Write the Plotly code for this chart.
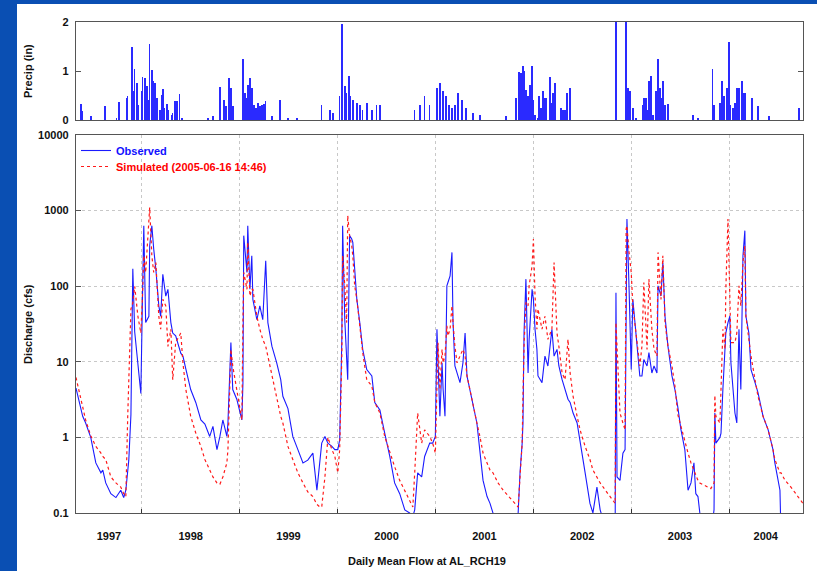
import plotly.graph_objects as go

# ---------------- data ----------------
flow_dates = [
    "1997-04-30", "1997-05-25", "1997-06-05", "1997-06-24", "1997-07-13", "1997-08-01", "1997-08-08",
    "1997-08-19", "1997-09-07", "1997-09-26", "1997-10-14", "1997-10-25", "1997-11-02", "1997-11-09",
    "1997-11-13", "1997-11-21", "1997-11-28", "1997-12-05", "1997-12-17", "1997-12-28",
    "1998-01-04", "1998-01-08", "1998-01-15", "1998-01-27", "1998-01-30", "1998-02-07", "1998-02-14",
    "1998-02-22", "1998-03-05", "1998-03-12", "1998-03-20", "1998-03-31", "1998-04-08", "1998-04-19",
    "1998-04-26", "1998-05-07", "1998-05-26", "1998-06-03", "1998-06-14", "1998-07-02", "1998-07-21",
    "1998-08-09", "1998-08-24", "1998-09-11", "1998-09-23", "1998-10-08", "1998-10-19", "1998-10-30",
    "1998-11-14", "1998-11-18", "1998-11-29", "1998-12-06", "1998-12-21",
    "1999-01-09", "1999-01-13", "1999-01-16", "1999-01-28", "1999-01-31", "1999-02-08", "1999-02-15",
    "1999-02-19", "1999-03-06", "1999-03-17", "1999-03-28", "1999-04-08", "1999-04-16", "1999-05-01",
    "1999-05-19", "1999-06-03", "1999-06-11", "1999-06-30", "1999-07-18", "1999-08-06", "1999-08-25",
    "1999-09-12", "1999-10-01", "1999-10-16", "1999-10-27", "1999-11-03", "1999-11-15", "1999-11-26",
    "1999-12-11", "1999-12-22",
    "2000-01-02", "2000-01-09", "2000-01-17", "2000-01-20", "2000-01-28", "2000-02-04", "2000-02-08",
    "2000-02-15", "2000-02-23", "2000-02-27", "2000-03-05", "2000-03-13", "2000-03-24", "2000-04-04",
    "2000-04-19", "2000-05-08", "2000-05-19", "2000-06-07", "2000-06-25", "2000-07-14", "2000-08-01",
    "2000-08-20", "2000-09-08", "2000-09-26", "2000-10-08", "2000-10-15", "2000-10-26", "2000-11-10",
    "2000-11-21", "2000-12-10", "2000-12-21", "2000-12-31",
    "2001-01-06", "2001-01-10", "2001-01-17", "2001-01-25", "2001-01-29", "2001-02-05", "2001-02-12",
    "2001-02-16", "2001-02-24", "2001-03-03", "2001-03-07", "2001-03-14", "2001-03-22", "2001-04-02",
    "2001-04-13", "2001-04-21", "2001-04-28", "2001-05-09", "2001-05-21", "2001-06-04", "2001-06-16",
    "2001-06-27", "2001-07-12", "2001-07-23", "2001-08-03", "2001-08-22", "2001-09-10", "2001-09-28",
    "2001-10-24", "2001-11-05", "2001-11-12", "2001-11-20", "2001-11-23", "2001-11-27", "2001-12-04",
    "2001-12-12", "2001-12-16", "2001-12-27",
    "2002-01-01", "2002-01-07", "2002-01-14", "2002-01-18", "2002-02-02", "2002-02-13", "2002-02-24",
    "2002-03-11", "2002-03-19", "2002-03-30", "2002-04-06", "2002-04-18", "2002-04-29", "2002-05-10",
    "2002-05-18", "2002-05-29", "2002-06-13", "2002-06-24", "2002-07-13", "2002-07-31", "2002-08-11",
    "2002-08-26", "2002-09-07", "2002-10-06", "2002-11-02", "2002-11-05", "2002-11-09", "2002-11-20",
    "2002-12-01", "2002-12-09", "2002-12-13", "2002-12-16", "2002-12-24",
    "2003-01-01", "2003-01-07", "2003-01-22", "2003-02-02", "2003-02-10", "2003-02-17", "2003-03-01",
    "2003-03-08", "2003-03-19", "2003-03-27", "2003-04-07", "2003-04-11", "2003-04-22", "2003-04-29",
    "2003-05-07", "2003-05-18", "2003-06-02", "2003-06-13", "2003-06-24", "2003-07-05", "2003-07-20",
    "2003-08-01", "2003-08-12", "2003-08-23", "2003-08-30", "2003-09-07", "2003-09-14", "2003-10-03",
    "2003-10-25", "2003-11-06", "2003-11-09", "2003-11-13", "2003-11-28", "2003-12-02", "2003-12-09",
    "2003-12-17", "2003-12-20", "2003-12-28",
    "2004-01-04", "2004-01-08", "2004-01-23", "2004-01-30", "2004-02-07", "2004-02-14", "2004-02-22",
    "2004-02-29", "2004-03-04", "2004-03-15", "2004-03-23", "2004-04-07", "2004-04-18", "2004-05-07",
    "2004-05-26", "2004-06-13", "2004-06-20", "2004-07-09", "2004-07-13", "2004-07-28", "2004-08-19",
    "2004-09-14", "2004-10-03",
]

observed_cfs = [
    4.5, 1.9, 1.55, 1.0, 0.46, 0.34, 0.37,
    0.25, 0.18, 0.16, 0.2, 0.16, 0.2, 0.37,
    0.5, 2.0, 170, 25, 10, 3.8,
    110, 630, 33, 40, 343, 632, 310,
    168, 55, 40, 144, 74, 91, 33,
    24, 22, 13, 11.9, 8, 4.3, 2.9,
    1.7, 1.5, 1.03, 1.4, 0.69, 1.03, 1.7,
    1.03, 1.55, 18, 4.3, 3.2,
    1.7, 5.3, 466, 152, 632, 91, 253,
    67, 36, 55, 36, 217, 33, 16.1,
    9.7, 5.8, 3.5, 2.4, 1.03, 0.69, 0.46,
    0.5, 0.62, 0.2, 0.56, 0.84, 1.03, 0.84,
    0.76, 0.69,
    0.69, 0.93, 19.8, 632, 36, 8.8, 5.8,
    466, 421, 380, 168, 67, 33, 14.6,
    7.9, 6.5, 2.9, 2.3, 1.14, 0.56, 0.25,
    0.18, 0.11, 0.1, 0.09, 0.11, 0.34, 0.30,
    0.56, 0.84, 0.84, 1.03,
    27, 11.9, 1.9, 9.7, 4.3, 1.9, 101,
    112, 137, 280, 33, 8.8, 7.1, 5.3,
    9.7, 24, 6.5, 4.3, 2.6, 1.55, 0.62,
    0.27, 0.165, 0.134, 0.1, 0.05, 0.05, 0.05,
    0.05, 0.1, 0.34, 0.84, 1.55, 24, 124,
    7.1, 19.8, 91,
    67, 27, 14.6, 6.5, 5.3, 11.9, 8.8,
    27, 11.9, 14.6, 8.8, 5.8, 4.3, 3.2,
    2.9, 2.1, 1.55, 0.84, 0.34, 0.134, 0.1,
    0.22, 0.11, 0.05, 0.05, 82, 0.3, 0.27,
    0.62, 0.69, 18, 774, 91,
    7.9, 67, 19.8, 6.5, 6.5, 10.7, 8.8,
    13.2, 7.1, 8.8, 7.1, 101, 74, 206,
    40, 16.1, 6.5, 4.3, 2.5, 1.3, 0.69,
    0.2, 0.25, 0.46, 0.18, 0.165, 0.1, 0.05,
    0.05, 0.11, 2.1, 0.84, 1.0, 1.14, 4.3,
    11.9, 24, 33,
    40, 9.7, 2.1, 1.55, 27, 4.3, 253,
    543, 40, 24, 7.9, 5.3, 3.9, 1.9,
    1.26, 0.69, 0.46, 0.2, 0.05, 0.05, 0.05,
    0.05, 0.05,
]

simulated_cfs = [
    6.2, 2.6, 1.7, 1.05, 0.76, 0.62, 0.56,
    0.51, 0.30, 0.25, 0.22, 0.18, 0.165, 1.9,
    6.5, 50, 60, 100, 40, 24,
    91, 253, 152, 632, 1100, 253, 152,
    206, 40, 27, 67, 55, 16, 27,
    5.8, 18, 24, 9.7, 4.3, 1.9, 1.14,
    0.76, 0.51, 0.37, 0.30, 0.25, 0.24, 0.30,
    0.46, 0.69, 14.6, 8.8, 4.3,
    1.7, 33, 152, 91, 380, 74, 91,
    91, 40, 27, 19.8, 16.1, 11.9, 6.5,
    3.5, 1.9, 1.55, 0.76, 0.51, 0.34, 0.25,
    0.19, 0.165, 0.13, 0.12, 0.12, 0.30, 1.0,
    0.69, 0.56,
    0.34, 0.69, 11.9, 253, 101, 33, 859,
    466, 343, 253, 101, 67, 30, 13.2,
    5.8, 4.8, 2.9, 2.1, 1.03, 0.62, 0.41,
    0.27, 0.20, 0.15, 0.12, 0.34, 2.1, 0.84,
    1.26, 1.03, 0.84, 0.62,
    7.1, 17.9, 4.3, 14.6, 9.7, 11.9, 30,
    22, 27, 55, 33, 16.1, 9.7, 11.9,
    14.6, 11.9, 6.5, 4.3, 2.6, 1.55, 1.0,
    0.62, 0.46, 0.37, 0.34, 0.25, 0.2, 0.17,
    0.134, 0.12, 0.30, 0.84, 3.5, 16.1, 61,
    55, 101, 186,
    421, 74, 27, 50, 27, 40, 19.8,
    27, 206, 24, 16, 7.1, 5.8, 19.8,
    7.1, 3.5, 1.9, 1.26, 0.76, 0.51, 0.37,
    0.30, 0.25, 0.18, 0.134, 33, 14.6, 2.1,
    1.55, 1.26, 571, 632, 280,
    152, 55, 19.8, 8.8, 16.1, 112, 14.6,
    124, 27, 14.6, 11.9, 280, 67, 253,
    33, 16.1, 8.8, 4.8, 2.0, 1.4, 0.93,
    0.62, 0.46, 0.37, 0.33, 0.27, 0.25, 0.23,
    0.21, 0.25, 3.6, 1.9, 1.55, 4.3, 27,
    14.6, 91, 774,
    61, 17.9, 17.9, 24, 101, 55, 206,
    343, 40, 19.8, 11.9, 5.8, 3.5, 1.9,
    1.26, 0.69, 0.51, 0.34, 0.34, 0.27, 0.22,
    0.165, 0.134,
]

precip_dates = [
    "1997-05-18", "1997-05-25", "1997-06-24", "1997-08-16", "1997-09-29", "1997-10-07", "1997-11-06",
    "1997-11-09", "1997-11-24", "1997-11-28", "1997-12-05", "1997-12-13", "1997-12-17",
    "1998-01-01", "1998-01-04", "1998-01-12", "1998-01-19", "1998-01-23", "1998-01-30", "1998-02-07",
    "1998-02-11", "1998-02-18", "1998-02-26", "1998-03-01", "1998-03-09", "1998-03-16", "1998-03-20",
    "1998-03-27", "1998-04-04", "1998-04-08", "1998-04-23", "1998-04-26", "1998-05-04", "1998-05-11",
    "1998-05-22", "1998-05-30", "1998-09-04", "1998-09-23", "1998-10-19", "1998-11-03", "1998-11-10",
    "1998-11-21", "1998-11-29", "1998-12-06",
    "1999-01-13", "1999-01-20", "1999-01-28", "1999-01-31", "1999-02-08", "1999-02-15", "1999-02-23",
    "1999-03-03", "1999-03-10", "1999-03-17", "1999-03-25", "1999-04-01", "1999-04-08", "1999-05-01",
    "1999-05-31", "1999-06-30", "1999-08-02", "1999-11-03", "1999-12-03", "1999-12-15",
    "2000-01-09", "2000-01-17", "2000-01-20", "2000-01-28", "2000-02-04", "2000-02-12", "2000-02-19",
    "2000-02-27", "2000-03-13", "2000-03-24", "2000-04-04", "2000-04-19", "2000-05-08", "2000-05-26",
    "2000-06-07", "2000-10-15", "2000-11-03", "2000-11-21", "2000-12-10",
    "2001-01-06", "2001-01-17", "2001-01-29", "2001-02-09", "2001-02-20", "2001-03-03", "2001-03-14",
    "2001-03-26", "2001-04-09", "2001-04-24", "2001-05-21", "2001-06-16", "2001-09-21", "2001-10-28",
    "2001-11-08", "2001-11-16", "2001-11-23", "2001-11-27", "2001-12-04", "2001-12-12", "2001-12-19",
    "2001-12-27",
    "2002-01-01", "2002-01-07", "2002-01-18", "2002-01-22", "2002-01-29", "2002-02-06", "2002-02-09",
    "2002-02-17", "2002-03-04", "2002-03-11", "2002-03-15", "2002-03-23", "2002-04-14", "2002-04-21",
    "2002-04-29", "2002-05-06", "2002-05-18", "2002-11-05", "2002-12-13", "2002-12-20", "2002-12-28",
    "2003-01-07", "2003-01-18", "2003-02-14", "2003-02-17", "2003-02-25", "2003-03-04", "2003-03-08",
    "2003-03-15", "2003-03-23", "2003-04-03", "2003-04-11", "2003-04-18", "2003-04-25", "2003-04-29",
    "2003-05-07", "2003-05-18", "2003-08-19", "2003-09-07", "2003-10-31", "2003-11-06", "2003-11-28",
    "2003-12-06", "2003-12-13", "2003-12-24",
    "2004-01-01", "2004-01-04", "2004-01-15", "2004-01-23", "2004-01-30", "2004-02-07", "2004-02-18",
    "2004-02-22", "2004-02-29", "2004-03-26", "2004-04-18", "2004-05-29", "2004-09-18",
]

precip_in = [
    0.32, 0.18, 0.08, 0.28, 0.05, 0.36, 0.45,
    0.48, 1.5, 0.6, 1.05, 0.75, 0.3,
    0.6, 0.88, 0.85, 0.7, 0.4, 1.55, 1.02,
    0.8, 0.75, 0.45, 0.3, 0.2, 0.52, 0.63,
    0.25, 0.32, 0.2, 0.1, 0.15, 0.38, 0.38,
    0.53, 0.03, 0.05, 0.08, 0.68, 0.4, 0.28,
    0.85, 0.65, 0.28,
    1.25, 0.55, 0.45, 0.72, 0.85, 0.65, 0.3,
    0.25, 0.35, 0.28, 0.3, 0.32, 0.38, 0.08,
    0.4, 0.05, 0.05, 0.3, 0.2, 0.15,
    0.5, 1.95, 0.9, 0.7, 0.55, 0.9, 0.5,
    0.4, 0.35, 0.3, 0.2, 0.35, 0.2, 0.3,
    0.3, 0.2, 0.3, 0.5, 0.3,
    0.65, 0.75, 0.6, 0.5, 0.3, 0.25, 0.3,
    0.55, 0.4, 0.25, 0.15, 0.1, 0.08, 0.45,
    0.97, 0.95, 1.1, 1.0, 0.62, 0.5, 0.72,
    1.1,
    0.4, 0.1, 0.05, 0.48, 0.25, 0.6, 0.45,
    0.45, 0.87, 0.35, 0.55, 0.75, 0.25, 0.2,
    0.2, 0.55, 0.65, 2.3, 2.3, 0.65, 0.6,
    0.25, 0.05, 0.3, 0.45, 0.45, 0.2, 0.8,
    0.9, 0.1, 0.6, 1.25, 0.65, 0.45, 0.8,
    0.3, 0.32, 0.1, 0.03, 1.05, 0.3, 0.35,
    0.8, 0.5, 0.65,
    1.6, 0.3, 0.25, 0.35, 0.65, 0.65, 0.8,
    0.55, 0.55, 0.45, 0.28, 0.08, 0.25,
]

year_labels = ["1997", "1998", "1999", "2000", "2001", "2002", "2003", "2004"]
year_label_dates = ["1997-08-31", "1998-07-02", "1999-07-02", "2000-07-02", "2001-07-02",
                    "2002-07-02", "2003-07-02", "2004-05-17"]
x_range = ["1997-04-30", "2004-10-03"]

# ---------------- figure ----------------
W, H = 817, 571
FONT = "Liberation Sans, Arial, Helvetica, sans-serif"
AXC = "#555555"
GRIDC = "#c8c8c8"

fig = go.Figure()

fig.add_trace(go.Bar(
    x=precip_dates, y=precip_in, xaxis="x", yaxis="y",
    marker=dict(color="#2a2aff", line=dict(width=0)),
    width=2.0 * 86400000, showlegend=False, hoverinfo="skip",
))

fig.add_trace(go.Scatter(
    x=flow_dates, y=observed_cfs, xaxis="x2", yaxis="y2", mode="lines",
    line=dict(color="#1a1aff", width=1.1),
    name="<span style='color:#1010ff'><b>Observed</b></span>", legend="legend",
))
fig.add_trace(go.Scatter(
    x=flow_dates, y=simulated_cfs, xaxis="x2", yaxis="y2", mode="lines",
    line=dict(color="#ff1a1a", width=1.2, dash="dot"),
    name="<span style='color:#ff0000'><b>Simulated (2005-06-16 14:46)</b></span>", legend="legend2",
))

xdom = [76 / W, 803 / W]
tickfont = dict(family=FONT, size=11, color="#111111", weight="bold")
leg_common = dict(x=76 / W, xanchor="left", yanchor="top", bgcolor="rgba(0,0,0,0)",
                  borderwidth=0, font=dict(family=FONT, size=11))

fig.update_layout(
    width=W, height=H,
    margin=dict(l=0, r=0, t=0, b=0, autoexpand=False),
    paper_bgcolor="#0a4fb3",
    plot_bgcolor="white",
    bargap=0,
    showlegend=True,
    legend=dict(y=1 - 136 / H, **leg_common),
    legend2=dict(y=1 - 152 / H, **leg_common),
    xaxis=dict(domain=xdom, anchor="y", type="date", range=x_range, automargin=False,
               showticklabels=False, ticks="", showgrid=False, zeroline=False,
               showline=True, mirror=True, linecolor=AXC, linewidth=1.3),
    yaxis=dict(domain=[1 - 120 / H, 1 - 22 / H], anchor="x", range=[0, 2], automargin=False,
               tickvals=[0, 1, 2], ticktext=["0", "1", "2"], ticks="inside", ticklen=5,
               tickcolor=AXC, tickfont=tickfont, showgrid=False, zeroline=False,
               showline=True, mirror="ticks", linecolor=AXC, linewidth=1.3,
               ticklabelstandoff=4),
    xaxis2=dict(domain=xdom, anchor="y2", type="date", range=x_range, automargin=False,
                tickvals=year_label_dates, ticktext=year_labels, ticks="",
                tickfont=tickfont, showgrid=False, zeroline=False,
                showline=True, mirror=True, linecolor=AXC, linewidth=1.3,
                ticklabelstandoff=13,
                minor=dict(dtick="M12", tick0="1998-01-01", ticks="inside", ticklen=4,
                           tickcolor="#333333", showgrid=True, gridcolor=GRIDC,
                           griddash="dot", gridwidth=1)),
    yaxis2=dict(domain=[1 - 513 / H, 1 - 135 / H], anchor="x2", type="log", range=[-1, 4],
                automargin=False,
                tickvals=[0.1, 1, 10, 100, 1000, 10000],
                ticktext=["0.1", "1", "10", "100", "1000", "10000"],
                ticks="inside", ticklen=5, tickcolor=AXC, tickfont=tickfont,
                showgrid=True, gridcolor=GRIDC, griddash="dot", gridwidth=1,
                zeroline=False, showline=True, mirror=True, linecolor=AXC, linewidth=1.3,
                ticklabelstandoff=4),
)

# white slide panel
fig.add_shape(type="rect", xref="paper", yref="paper", x0=17 / W, x1=1, y0=0, y1=1 - 4 / H,
              fillcolor="white", line=dict(width=0), layer="below")

ann_font = dict(family=FONT, size=11, color="#111111")
ann_common = dict(xref="paper", yref="paper", showarrow=False, font=ann_font,
                  xanchor="center", yanchor="middle")
fig.add_annotation(text="<b>Precip (in)</b>", x=28 / W, y=1 - 71 / H, textangle=-90, **ann_common)
fig.add_annotation(text="<b>Discharge (cfs)</b>", x=28 / W, y=1 - 324 / H, textangle=-90, **ann_common)
fig.add_annotation(text="<b>Daily Mean Flow at AL_RCH19</b>", x=427 / W, y=1 - 561 / H, **ann_common)

fig.write_html("out.html", config={"displayModeBar": False},
               post_script="document.body.style.margin='0px';")
